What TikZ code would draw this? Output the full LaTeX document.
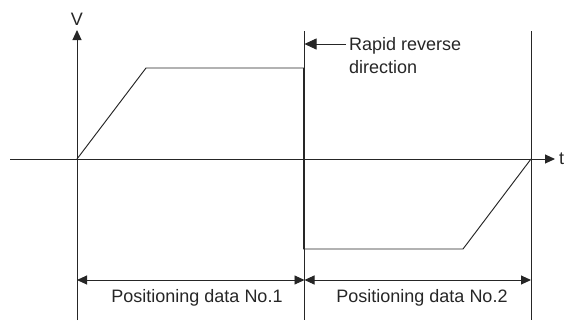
\documentclass[tikz,border=0pt]{standalone}
\usepackage{fontspec}
\setmainfont{Liberation Sans}
\usetikzlibrary{arrows.meta}
\begin{document}
\begin{tikzpicture}[x=1pt,y=-1pt,
  line/.style={line width=0.95pt,draw=black!85},
  tip/.style={-{Triangle[length=10pt,width=9pt]}},
  bigtip/.style={-{Triangle[length=12pt,width=11pt]}},
  dim/.style={{Triangle[length=10pt,width=9pt]}-{Triangle[length=10pt,width=9pt]}},
  lbl/.style={font=\fontsize{18}{23}\selectfont,text=black!85,inner sep=0pt}]
\useasboundingbox (0,0) rectangle (565,322);
% coordinates
\coordinate (o) at (77,159);
\coordinate (vbot) at (77,320);
\coordinate (vtop) at (77,30);
\coordinate (tleft) at (10,159);
\coordinate (tright) at (555,159);
\coordinate (p1) at (146,68);
\coordinate (p2) at (303.5,68);
\coordinate (p3) at (303.5,249);
\coordinate (p4) at (463,249);
\coordinate (p5) at (531,159);
\coordinate (b1top) at (304.5,31);
\coordinate (b1bot) at (304.5,320);
\coordinate (b2top) at (531,31);
\coordinate (b2bot) at (531,320);
\coordinate (d0) at (77,280);
\coordinate (d1) at (304.5,280);
\coordinate (d2) at (531,280);
\coordinate (rr) at (346,44);
\coordinate (rrtip) at (304.5,44);
% labels
\node[lbl] (V) at (77,19) {V};
\node[lbl,anchor=west] (t) at (559,159) {t};
\node[lbl,anchor=west,align=left] (rap) at (349,56) {Rapid reverse\\direction};
\node[lbl] (pd1) at (197,298) {Positioning data No.1};
\node[lbl] (pd2) at (422,298) {Positioning data No.2};
% axes
\draw[line,tip] (vbot) -- (vtop);
\draw[line,tip] (tleft) -- (tright);
% boundaries
\draw[line] (b1top) -- (b1bot);
\draw[line] (b2top) -- (b2bot);
% velocity profile
\draw[line,line join=miter] (o) -- (p1) -- (p2) -- (p3) -- (p4) -- (p5);
% rapid reverse arrow
\draw[line,bigtip,line width=0.8pt] (rr) -- (rrtip);
% dimension lines
\draw[line,dim] (d0) -- (d1);
\draw[line,dim] (d1) -- (d2);
\end{tikzpicture}
\end{document}
